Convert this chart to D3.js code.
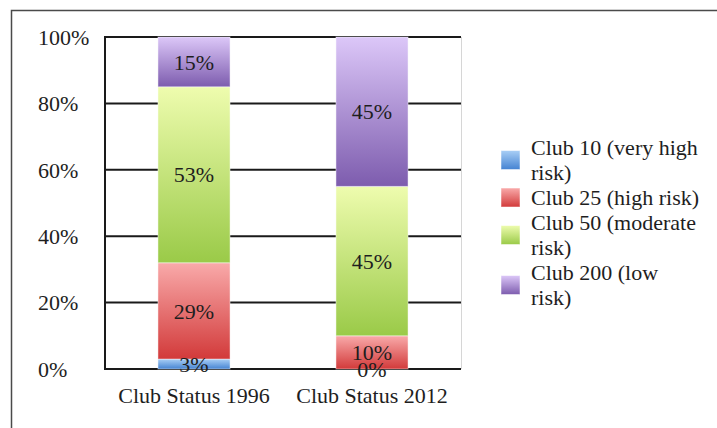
<!DOCTYPE html>
<html>
<head>
<meta charset="utf-8">
<script src="https://cdn.jsdelivr.net/npm/d3@7"></script>
<style>
  html, body { margin: 0; padding: 0; background: #fff; }
  svg { display: block; }
  text { font-family: "Liberation Serif", "Times New Roman", serif; fill: #1e1e1e; }
</style>
</head>
<body>
<svg id="chart" width="717" height="428"></svg>
<script>
// Club status share by year
const categories = ["Club Status 1996", "Club Status 2012"];
const seriesNames = ["Club 10 (very high risk)", "Club 25 (high risk)", "Club 50 (moderate risk)", "Club 200 (low risk)"];
const club10 = [3, 0];
const club25 = [29, 10];
const club50 = [53, 45];
const club200 = [15, 45];
const yTicks = [0, 20, 40, 60, 80, 100];
const legendLines = [["Club 10 (very high", "risk)"], ["Club 25 (high risk)"], ["Club 50 (moderate", "risk)"], ["Club 200 (low", "risk)"]];

const seriesValues = [club10, club25, club50, club200];
// gradient stops (top, bottom) for each series
const gradients = [
  ["#a9cff6", "#4583d2"],
  ["#f9aaaa", "#d23a3a"],
  ["#eefcae", "#9aca48"],
  ["#dcc7f8", "#7d5cae"]
];

const svg = d3.select("#chart");
const margin = { left: 105, right: 256, top: 37, bottom: 59 };
const W = 717, H = 428;
const plotW = W - margin.left - margin.right;
const plotH = H - margin.top - margin.bottom;

// outer frame
svg.append("rect")
  .attr("x", 11.5).attr("y", 10.5)
  .attr("width", 760).attr("height", 460)
  .attr("fill", "none").attr("stroke", "#4a4a4a").attr("stroke-width", 1.5);

const defs = svg.append("defs");
gradients.forEach((g, i) => {
  const lg = defs.append("linearGradient")
    .attr("id", "grad" + i).attr("x1", 0).attr("y1", 0).attr("x2", 0).attr("y2", 1);
  lg.append("stop").attr("offset", "0%").attr("stop-color", g[0]);
  lg.append("stop").attr("offset", "100%").attr("stop-color", g[1]);
});

const x = d3.scaleBand().domain(categories).range([0, plotW]).paddingInner(0.595).paddingOuter(0.2975);
const y = d3.scaleLinear().domain([0, 100]).range([plotH, 0]);

const g = svg.append("g").attr("transform", `translate(${margin.left},${margin.top})`);

// right plot edge
g.append("line")
  .attr("x1", plotW + 0.5).attr("x2", plotW + 0.5).attr("y1", 0).attr("y2", plotH)
  .attr("stroke", "#d6d6d6").attr("stroke-width", 1);

// gridlines
g.selectAll(".grid").data(yTicks).join("line")
  .attr("x1", 0).attr("x2", plotW)
  .attr("y1", d => y(d)).attr("y2", d => y(d))
  .attr("stroke", "#1a1a1a").attr("stroke-width", 2);

// stacked data
const rows = categories.map((c, i) => {
  const r = { cat: c };
  seriesValues.forEach((s, k) => r["s" + k] = s[i]);
  return r;
});
const stack = d3.stack().keys(seriesValues.map((_, k) => "s" + k));
const stacked = stack(rows);

stacked.forEach((layer, k) => {
  g.selectAll(".seg" + k).data(layer).join("rect")
    .attr("x", d => x(d.data.cat))
    .attr("width", x.bandwidth())
    .attr("y", d => y(d[1]))
    .attr("height", d => y(d[0]) - y(d[1]))
    .attr("fill", `url(#grad${k})`)
    .attr("stroke", "rgba(255,255,255,0.45)")
    .attr("stroke-width", 1);
});

// y axis line
g.append("line")
  .attr("x1", 0).attr("x2", 0).attr("y1", -1).attr("y2", plotH + 1)
  .attr("stroke", "#1a1a1a").attr("stroke-width", 2);

// data labels
stacked.forEach((layer, k) => {
  g.selectAll(".lab" + k).data(layer).join("text")
    .attr("x", d => x(d.data.cat) + x.bandwidth() / 2)
    .attr("y", d => y((d[0] + d[1]) / 2))
    .attr("dy", "0.35em")
    .attr("text-anchor", "middle")
    .attr("font-size", 22)
    .text(d => (d[1] - d[0]) + "%");
});

// y tick labels (left aligned)
svg.selectAll(".ytick").data(yTicks).join("text")
  .attr("x", 38)
  .attr("y", d => margin.top + y(d))
  .attr("dy", "0.35em")
  .attr("font-size", 22)
  .attr("fill", "#2a2a2a")
  .text(d => d + "%");

// category labels
g.selectAll(".xlab").data(categories).join("text")
  .attr("x", d => x(d) + x.bandwidth() / 2)
  .attr("y", plotH + 26)
  .attr("dy", "0.35em")
  .attr("text-anchor", "middle")
  .attr("font-size", 22)
  .text(d => d);

// legend
const legendTop = 135;
const lineH = 25;
let row = 0;
legendLines.forEach((lines, k) => {
  const y0 = legendTop + row * lineH;
  const cy = y0 + (lines.length * lineH) / 2;
  svg.append("rect")
    .attr("x", 501).attr("y", cy - 9.5).attr("width", 19).attr("height", 19)
    .attr("fill", `url(#grad${k})`)
    .attr("stroke", "rgba(255,255,255,0.5)");
  lines.forEach((t, j) => {
    svg.append("text")
      .attr("x", 531)
      .attr("y", y0 + j * lineH + lineH / 2)
      .attr("dy", "0.35em")
      .attr("font-size", 22)
      .text(t);
  });
  row += lines.length;
});
</script>
</body>
</html>
